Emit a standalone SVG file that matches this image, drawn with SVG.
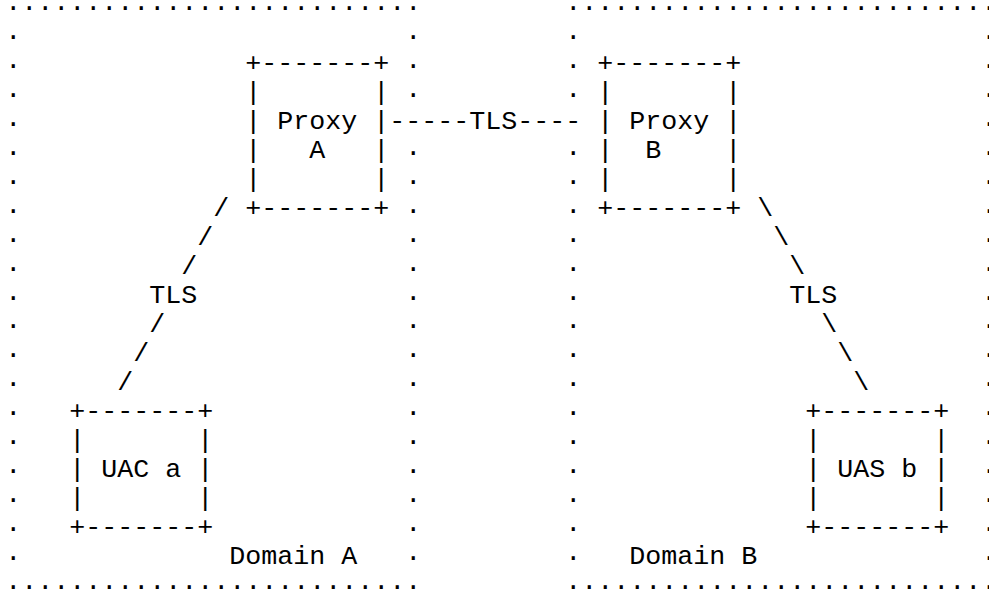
<svg xmlns="http://www.w3.org/2000/svg" width="989" height="601" viewBox="0 0 989 601" xml:space="preserve">
<style>
text { font-family: "Liberation Mono", "Courier New", monospace; font-size: 26.667px; fill: #000; white-space: pre; }
</style>
<rect x="0" y="0" width="989" height="601" fill="#fff"/>
<g id="domainA">
<text x="5.33" y="10">..........................</text>
<text x="5.33" y="38.95">.</text><text x="405.33" y="38.95">.</text>
<text x="5.33" y="67.9">.</text><text x="405.33" y="67.9">.</text>
<text x="5.33" y="96.85">.</text><text x="405.33" y="96.85">.</text>
<text x="5.33" y="125.8">.</text>
<text x="5.33" y="154.75">.</text><text x="405.33" y="154.75">.</text>
<text x="5.33" y="183.7">.</text><text x="405.33" y="183.7">.</text>
<text x="5.33" y="212.65">.</text><text x="405.33" y="212.65">.</text>
<text x="5.33" y="241.6">.</text><text x="405.33" y="241.6">.</text>
<text x="5.33" y="270.55">.</text><text x="405.33" y="270.55">.</text>
<text x="5.33" y="299.5">.</text><text x="405.33" y="299.5">.</text>
<text x="5.33" y="328.45">.</text><text x="405.33" y="328.45">.</text>
<text x="5.33" y="357.4">.</text><text x="405.33" y="357.4">.</text>
<text x="5.33" y="386.35">.</text><text x="405.33" y="386.35">.</text>
<text x="5.33" y="415.3">.</text><text x="405.33" y="415.3">.</text>
<text x="5.33" y="444.25">.</text><text x="405.33" y="444.25">.</text>
<text x="5.33" y="473.2">.</text><text x="405.33" y="473.2">.</text>
<text x="5.33" y="502.15">.</text><text x="405.33" y="502.15">.</text>
<text x="5.33" y="531.1">.</text><text x="405.33" y="531.1">.</text>
<text x="5.33" y="560.05">.</text><text x="405.33" y="560.05">.</text>
<text x="5.33" y="589">..........................</text>
<text x="229.33" y="564">Domain A</text>
</g>
<g id="domainB">
<text x="565.33" y="10">...........................</text>
<text x="565.33" y="38.95">.</text><text x="981.33" y="38.95">.</text>
<text x="565.33" y="67.9">.</text><text x="981.33" y="67.9">.</text>
<text x="565.33" y="96.85">.</text><text x="981.33" y="96.85">.</text>
<text x="981.33" y="125.8">.</text>
<text x="565.33" y="154.75">.</text><text x="981.33" y="154.75">.</text>
<text x="565.33" y="183.7">.</text><text x="981.33" y="183.7">.</text>
<text x="565.33" y="212.65">.</text><text x="981.33" y="212.65">.</text>
<text x="565.33" y="241.6">.</text><text x="981.33" y="241.6">.</text>
<text x="565.33" y="270.55">.</text><text x="981.33" y="270.55">.</text>
<text x="565.33" y="299.5">.</text><text x="981.33" y="299.5">.</text>
<text x="565.33" y="328.45">.</text><text x="981.33" y="328.45">.</text>
<text x="565.33" y="357.4">.</text><text x="981.33" y="357.4">.</text>
<text x="565.33" y="386.35">.</text><text x="981.33" y="386.35">.</text>
<text x="565.33" y="415.3">.</text><text x="981.33" y="415.3">.</text>
<text x="565.33" y="444.25">.</text><text x="981.33" y="444.25">.</text>
<text x="565.33" y="473.2">.</text><text x="981.33" y="473.2">.</text>
<text x="565.33" y="502.15">.</text><text x="981.33" y="502.15">.</text>
<text x="565.33" y="531.1">.</text><text x="981.33" y="531.1">.</text>
<text x="565.33" y="560.05">.</text><text x="981.33" y="560.05">.</text>
<text x="565.33" y="589">...........................</text>
<text x="629.33" y="564">Domain B</text>
</g>
<g id="proxyA">
<text x="245.33" y="71">+-------+</text>
<text x="245.33" y="100">|       |</text>
<text x="245.33" y="129">| Proxy |</text>
<text x="245.33" y="158">|   A   |</text>
<text x="245.33" y="187">|       |</text>
<text x="245.33" y="216">+-------+</text>
</g>
<g id="proxyB">
<text x="597.33" y="71">+-------+</text>
<text x="597.33" y="100">|       |</text>
<text x="597.33" y="129">| Proxy |</text>
<text x="597.33" y="158">|  B    |</text>
<text x="597.33" y="187">|       |</text>
<text x="597.33" y="216">+-------+</text>
</g>
<g id="uacA">
<text x="69.33" y="419">+-------+</text>
<text x="69.33" y="448">|       |</text>
<text x="69.33" y="477">| UAC a |</text>
<text x="69.33" y="506">|       |</text>
<text x="69.33" y="535">+-------+</text>
</g>
<g id="uasB">
<text x="805.33" y="419">+-------+</text>
<text x="805.33" y="448">|       |</text>
<text x="805.33" y="477">| UAS b |</text>
<text x="805.33" y="506">|       |</text>
<text x="805.33" y="535">+-------+</text>
</g>
<g id="connectors">
<text x="389.33" y="129">-----TLS----</text>
<text x="213.33" y="216">/</text>
<text x="197.33" y="245">/</text>
<text x="181.33" y="274">/</text>
<text x="149.33" y="303">TLS</text>
<text x="149.33" y="332">/</text>
<text x="133.33" y="361">/</text>
<text x="117.33" y="390">/</text>
<text x="757.33" y="216">\</text>
<text x="773.33" y="245">\</text>
<text x="789.33" y="274">\</text>
<text x="789.33" y="303">TLS</text>
<text x="821.33" y="332">\</text>
<text x="837.33" y="361">\</text>
<text x="853.33" y="390">\</text>
</g>
</svg>
